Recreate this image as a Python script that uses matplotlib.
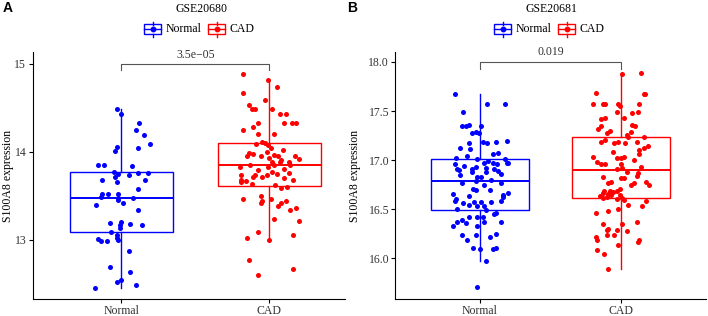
import numpy as np
import matplotlib
matplotlib.use("Agg")
import matplotlib.pyplot as plt
from matplotlib.patches import Rectangle
from matplotlib.lines import Line2D

plt.rcParams['font.family'] = ['Liberation Serif', 'DejaVu Serif']

groups = ["Normal", "CAD"]
colors = ["#0000FF", "#FF0000"]

# panel A  (GSE20680), jitter = horizontal offset
a_normal_val = [14.48, 14.43, 14.32, 14.24, 14.19, 14.08, 14.05, 14.01, 14.04,
                13.85, 13.85, 13.83, 13.77, 13.74, 13.73, 13.76, 13.76, 13.71, 13.68,
                13.68, 13.65, 13.57, 13.52, 13.52, 13.52, 13.48, 13.47, 13.47, 13.45,
                13.39, 13.41, 13.34, 13.19, 13.20, 13.18, 13.16, 13.16, 13.13, 13.09,
                13.05, 13.02, 13.01, 12.98, 12.98, 13.00, 12.87, 12.69, 12.63, 12.54,
                12.52, 12.45, 12.48]
a_normal_jit = [-0.03, 0.00, 0.12, 0.10, 0.15, 0.19, -0.03, -0.04, 0.11,
                -0.16, -0.12, 0.07, -0.05, -0.02, 0.05, 0.11, 0.18, -0.04, -0.13,
                0.16, -0.03, 0.11, -0.13, -0.09, -0.02, -0.14, -0.02, 0.08, -0.02,
                -0.17, 0.01, 0.11, -0.08, 0.00, 0.06, 0.14, -0.01, -0.01, -0.07,
                -0.03, -0.03, -0.16, -0.14, -0.10, -0.02, 0.05, -0.08, 0.06, 0.00,
                -0.03, -0.18, 0.10]

a_cad_val = [14.88, 14.81, 14.73, 14.66, 14.59, 14.53, 14.48, 14.48, 14.48, 14.43,
             14.43, 14.32, 14.28, 14.32, 14.32, 14.32, 14.24, 14.20, 14.20, 14.11,
             14.10, 14.08, 14.07, 14.04, 14.02,
             13.98, 13.95, 13.95, 13.99, 13.96, 13.95, 13.93, 13.92, 13.95, 13.97,
             13.90, 13.88, 13.88, 13.88, 13.85, 13.85, 13.85, 13.82, 13.82, 13.80,
             13.79, 13.77, 13.76, 13.75, 13.73, 13.73, 13.73, 13.71, 13.71, 13.70,
             13.68, 13.68, 13.66, 13.65, 13.63, 13.62, 13.59, 13.60,
             13.49, 13.46, 13.46, 13.44, 13.44, 13.41, 13.41, 13.38, 13.36,
             13.34, 13.23, 13.21, 13.09, 13.05, 13.02, 12.99, 12.77, 12.66, 12.60]
a_cad_jit = [-0.18, -0.01, 0.05, -0.18, -0.03, -0.14, -0.12, -0.10, 0.02, 0.07,
             0.11, -0.08, -0.11, 0.10, 0.15, 0.18, -0.18, -0.08, 0.03, -0.05,
             -0.03, -0.09, -0.01, 0.01, 0.09,
             -0.14, -0.15, -0.06, -0.02, 0.03, 0.06, 0.00, 0.20, 0.17, -0.11,
             0.08, 0.02, 0.07, 0.13, 0.14, -0.13, 0.03, -0.20, -0.01, 0.10,
             -0.08, 0.02, 0.13, 0.05, -0.10, -0.19, -0.02, -0.05, -0.11, 0.10,
             -0.19, 0.16, -0.16, -0.19, -0.12, 0.04, 0.08, 0.12,
             -0.06, -0.18, 0.01, -0.05, 0.11, -0.06, 0.08, 0.06, 0.18,
             0.14, 0.03, 0.20, -0.08, 0.16, -0.15, 0.00, -0.14, 0.16, -0.08]

# panel B  (GSE20681)
b_normal_val = [17.67, 17.57, 17.57, 17.49, 17.35, 17.35, 17.36, 17.35, 17.28, 17.29,
                17.28, 17.18, 17.17, 17.17, 17.18, 17.19, 17.12, 17.11, 17.06, 17.07,
                17.02, 17.01, 17.01, 17.04, 16.99, 16.94, 16.89, 16.85, 16.80,
                16.97, 16.96, 16.97, 16.97, 16.96, 16.97, 16.91, 16.90, 16.91, 16.93,
                16.92, 16.91, 16.88, 16.88, 16.86, 16.83, 16.83, 16.79, 16.77, 16.77,
                16.74, 16.70, 16.69, 16.69, 16.65, 16.66, 16.63, 16.64, 16.60, 16.62,
                16.58, 16.58, 16.56, 16.57, 16.57, 16.57, 16.54, 16.53, 16.53, 16.50,
                16.49, 16.45, 16.46, 16.42, 16.42, 16.42, 16.39, 16.37, 16.36, 16.37,
                16.37, 16.33, 16.33, 16.24, 16.24, 16.25, 16.21, 16.18, 16.10, 16.09,
                16.10, 16.09, 15.97, 15.70]
b_normal_jit = [-0.18, 0.05, 0.18, -0.12, -0.13, -0.10, -0.08, 0.01, -0.06, -0.03,
                -0.01, 0.02, -0.08, 0.05, 0.11, 0.19, -0.14, -0.07, 0.09, 0.13,
                -0.17, -0.02, 0.18, -0.09, 0.06, -0.11, 0.13, -0.14, 0.08,
                0.20, -0.18, 0.03, 0.09, 0.12, 0.19, -0.16, -0.15, -0.06, -0.03,
                0.04, 0.10, -0.06, 0.04, 0.15, -0.02, 0.01, -0.03, -0.13, 0.15,
                0.03, -0.05, -0.03, 0.07, -0.19, 0.20, -0.08, 0.16, -0.17, 0.16,
                -0.18, 0.15, -0.12, -0.04, 0.01, 0.08, -0.08, -0.02, 0.03, -0.16,
                0.04, 0.10, 0.11, -0.08, -0.02, 0.02, -0.13, -0.16, -0.10, 0.03,
                0.15, -0.19, -0.02, -0.13, -0.03, 0.11, 0.07, -0.09, 0.11, 0.09,
                -0.05, 0.00, 0.04, -0.02]

b_cad_val = [17.89, 17.88, 17.68, 17.67, 17.67, 17.57, 17.57, 17.57, 17.57, 17.55,
             17.57, 17.43, 17.42, 17.43, 17.49, 17.48, 17.49, 17.36, 17.35, 17.35,
             17.30, 17.28, 17.29, 17.23, 17.23, 17.18, 17.17, 17.18, 17.17, 17.18,
             17.12, 17.10, 17.06, 17.03, 17.02, 17.02, 17.03,
             17.32, 17.26, 17.20, 17.14, 17.08, 17.00, 16.98, 16.93,
             16.96, 16.96, 16.96, 16.91, 16.92, 16.88, 16.87, 16.84, 16.83, 16.82,
             16.82, 16.77, 16.78, 16.78, 16.77, 16.74, 16.74, 16.70, 16.68, 16.68,
             16.67, 16.68, 16.66, 16.65, 16.64, 16.63, 16.61, 16.62, 16.64, 16.61,
             16.60, 16.59, 16.58, 16.53, 16.54, 16.46, 16.48, 16.50, 16.35, 16.35,
             16.37, 16.30, 16.29, 16.29, 16.28, 16.24, 16.24, 16.21, 16.18, 16.18,
             16.16, 16.13, 16.08, 16.04, 15.89]
b_cad_jit = [0.14, 0.01, -0.18, 0.16, 0.17, -0.20, -0.13, -0.11, -0.02, -0.01,
             0.13, -0.11, -0.14, 0.02, -0.03, 0.08, 0.12, 0.08, 0.10, -0.14,
             -0.08, -0.10, 0.07, 0.05, 0.16, -0.14, -0.05, -0.02, 0.03, 0.11,
             0.16, 0.13, 0.13, -0.20, -0.03, 0.00, 0.02,
             -0.16, 0.04, -0.11, 0.19, -0.06, 0.09, -0.17, 0.14,
             -0.11, -0.14, 0.00, -0.03, 0.01, 0.04, 0.12, 0.11, -0.13, 0.00,
             0.02, -0.09, -0.07, 0.18, 0.09, 0.07, 0.20, -0.01, -0.12, -0.08,
             -0.06, -0.03, -0.13, -0.09, -0.07, -0.15, -0.13, -0.10, -0.01, 0.01,
             -0.03, 0.02, 0.18, 0.15, 0.05, -0.18, -0.09, -0.02, -0.13, 0.01,
             0.11, -0.09, -0.10, -0.03, 0.04, -0.10, -0.05, -0.18, -0.17, 0.13,
             0.12, -0.02, -0.17, -0.12, -0.09]

panels = [
    dict(letter="A", title="GSE20680", vals=[a_normal_val, a_cad_val],
         jits=[a_normal_jit, a_cad_jit], p="3.5e\u221205", bracket=14.99,
         tip=0.06, ylim=(12.324, 15.131), yticks=[13, 14, 15],
         yticklabels=["13", "14", "15"], xlim=(0.4, 2.51),
         rect=[32.5, 17, 312.5, 247], title_x=201, letter_x=3, ylab_x=8),
    dict(letter="B", title="GSE20681", vals=[b_normal_val, b_cad_val],
         jits=[b_normal_jit, b_cad_jit], p="0.019", bracket=18.0,
         tip=0.07, ylim=(15.582, 18.102), yticks=[16.0, 16.5, 17.0, 17.5, 18.0],
         yticklabels=["16.0", "16.5", "17.0", "17.5", "18.0"], xlim=(0.4, 2.6),
         rect=[395.4, 17, 310.2, 247], title_x=551, letter_x=347, ylab_x=355),
]

W, H = 708, 316
fig = plt.figure(figsize=(W / 100, H / 100), dpi=100)


def fx(px):
    return px / W


def fy(py):
    return 1 - py / H


def legend_key(x0, yc, color):
    # ggplot boxplot key: box + median + whiskers + dot
    w, h = 17, 9
    fig.add_artist(Rectangle((fx(x0), fy(yc + h / 2)), w / W, h / H,
                             transform=fig.transFigure, fill=False,
                             edgecolor=color, lw=1.0))
    fig.add_artist(Line2D([fx(x0), fx(x0 + w)], [fy(yc), fy(yc)],
                          transform=fig.transFigure, color=color, lw=1.0))
    fig.add_artist(Line2D([fx(x0 + w / 2)] * 2, [fy(yc - h / 2 - 3), fy(yc - h / 2)],
                          transform=fig.transFigure, color=color, lw=1.0))
    fig.add_artist(Line2D([fx(x0 + w / 2)] * 2, [fy(yc + h / 2), fy(yc + h / 2 + 3)],
                          transform=fig.transFigure, color=color, lw=1.0))
    fig.add_artist(Line2D([fx(x0 + w / 2)], [fy(yc)], transform=fig.transFigure,
                          marker="o", ms=3.2, color=color, lw=0))


for pn in panels:
    l, b, w, h = pn["rect"]
    ax = fig.add_axes([fx(l), b / H, w / W, h / H])
    for i, (v, j) in enumerate(zip(pn["vals"], pn["jits"])):
        pos = i + 1
        ax.boxplot(v, positions=[pos], widths=0.7, whis=1.5, showfliers=False,
                   showcaps=False, patch_artist=True,
                   boxprops=dict(facecolor="white", edgecolor=colors[i], lw=1.0),
                   medianprops=dict(color=colors[i], lw=1.4),
                   whiskerprops=dict(color=colors[i], lw=1.0), zorder=2)
        ax.scatter(pos + np.array(j), v, s=13, color=colors[i], lw=0, zorder=3)

    # significance bracket
    yb, t = pn["bracket"], pn["tip"]
    ax.plot([1, 1, 2, 2], [yb - t, yb, yb, yb - t], color="#555555", lw=0.8,
            clip_on=False)
    ax.text(1.5, yb + 0.04, pn["p"], ha="center", va="bottom", fontsize=8.5,
            color="#333333")

    ax.set_xlim(*pn["xlim"])
    ax.set_ylim(*pn["ylim"])
    ax.set_xticks([1, 2])
    ax.set_xticklabels(groups)
    ax.set_yticks(pn["yticks"])
    ax.set_yticklabels(pn["yticklabels"])
    ax.tick_params(labelsize=8.5, labelcolor="#333333", length=3, width=0.8,
                   pad=1.5)
    for s in ["top", "right"]:
        ax.spines[s].set_visible(False)
    for s in ["left", "bottom"]:
        ax.spines[s].set_linewidth(0.8)
    ax.set_ylabel("S100A8 expression", fontsize=8.5, va="center")
    ax.yaxis.set_label_coords((pn["ylab_x"] - l) / w, 0.5)

    fig.text(fx(pn["title_x"]), fy(9), pn["title"], ha="center", va="center",
             fontsize=8.5)
    fig.text(fx(pn["letter_x"]), fy(8), pn["letter"], ha="left", va="center",
             fontsize=10, fontweight="bold", family="Liberation Sans")

    # legend
    cx = pn["title_x"] - 1
    kx = cx - 56
    legend_key(kx, 29, colors[0])
    fig.text(fx(kx + 22), fy(29), "Normal", ha="left", va="center", fontsize=8.5)
    legend_key(kx + 64, 29, colors[1])
    fig.text(fx(kx + 86), fy(29), "CAD", ha="left", va="center", fontsize=8.5)

fig.savefig("out.png", dpi=100)
